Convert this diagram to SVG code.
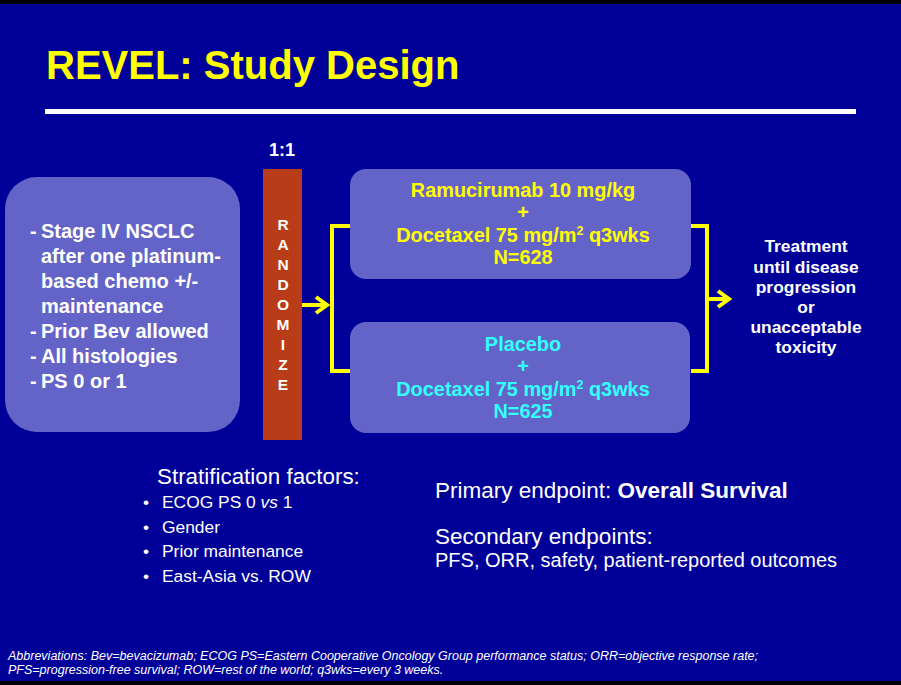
<svg xmlns="http://www.w3.org/2000/svg" width="901" height="685" viewBox="0 0 901 685">
<style>
text{font-family:"Liberation Sans",Arial,sans-serif}
.b{font-weight:bold}
.w{fill:#ffffff}
.y{fill:#ffff00}
.c{fill:#33ffff}
.box{fill:#6464c8}
.conn{stroke:#ffff00;stroke-width:4;fill:none}
.mid{text-anchor:middle}
</style>
<rect x="0" y="0" width="901" height="685" fill="#000099"/>
<rect x="0" y="0" width="901" height="4" fill="#000000"/>
<rect x="0" y="681" width="901" height="4" fill="#000000"/>

<g id="title">
<text x="46" y="79" class="b y" font-size="40">REVEL: Study Design</text>
<rect x="45" y="109" width="811" height="5" fill="#ffffff"/>
</g>

<g id="connectors">
<line x1="302" y1="305" x2="326" y2="305" class="conn"/>
<polyline points="316,297 327,305 316,313" class="conn"/>
<polyline points="350,226 332,226 332,371 350,371" class="conn"/>
<polyline points="691,226 707,226 707,371 691,371" class="conn"/>
<line x1="707" y1="299" x2="728" y2="299" class="conn"/>
<polyline points="718,291 729,299 718,307" class="conn"/>
</g>

<g id="eligibility">
<rect x="5" y="177" width="235" height="255" rx="32" class="box"/>
<g class="b w" font-size="20">
<text x="30" y="238">-</text><text x="41" y="238">Stage IV NSCLC</text>
<text x="41" y="263">after one platinum-</text>
<text x="41" y="288">based chemo +/-</text>
<text x="41" y="313">maintenance</text>
<text x="30" y="338">-</text><text x="41" y="338">Prior Bev allowed</text>
<text x="30" y="363">-</text><text x="41" y="363">All histologies</text>
<text x="30" y="388">-</text><text x="41" y="388">PS 0 or 1</text>
</g>
</g>

<g id="randomize">
<text x="282" y="156" class="b w mid" font-size="18">1:1</text>
<rect x="263" y="169" width="39" height="271" fill="#b83c17"/>
<g class="b w mid" font-size="15.5">
<text x="283" y="230">R</text>
<text x="283" y="250">A</text>
<text x="283" y="270">N</text>
<text x="283" y="290">D</text>
<text x="283" y="310">O</text>
<text x="283" y="330">M</text>
<text x="283" y="350">I</text>
<text x="283" y="370">Z</text>
<text x="283" y="390">E</text>
</g>
</g>

<g id="arm-ramucirumab">
<rect x="350" y="169" width="341" height="110" rx="16" class="box"/>
<g class="b y mid" font-size="19.9">
<text x="523" y="197">Ramucirumab 10 mg/kg</text>
<text x="523" y="219">+</text>
<text x="523" y="242">Docetaxel 75 mg/m<tspan font-size="12.5" dy="-7">2</tspan><tspan dy="7"> q3wks</tspan></text>
<text x="523" y="264">N=628</text>
</g>
</g>

<g id="arm-placebo">
<rect x="350" y="322" width="340" height="111" rx="16" class="box"/>
<g class="b c mid" font-size="19.9">
<text x="523" y="351">Placebo</text>
<text x="523" y="373">+</text>
<text x="523" y="396">Docetaxel 75 mg/m<tspan font-size="12.5" dy="-7">2</tspan><tspan dy="7"> q3wks</tspan></text>
<text x="523" y="418">N=625</text>
</g>
</g>

<g id="outcome">
<g class="b w mid" font-size="17.4">
<text x="806" y="252">Treatment</text>
<text x="806" y="273">until disease</text>
<text x="806" y="293">progression</text>
<text x="806" y="313">or</text>
<text x="806" y="333">unacceptable</text>
<text x="806" y="353">toxicity</text>
</g>
</g>

<g id="stratification" class="w">
<text x="157" y="484" font-size="22.4">Stratification factors:</text>
<g font-size="17.4">
<text x="143" y="508">•</text><text x="162" y="508">ECOG PS 0 <tspan font-style="italic">vs</tspan> 1</text>
<text x="143" y="533">•</text><text x="162" y="533">Gender</text>
<text x="143" y="557">•</text><text x="162" y="557">Prior maintenance</text>
<text x="143" y="582">•</text><text x="162" y="582">East-Asia vs. ROW</text>
</g>
</g>

<g id="endpoints" class="w">
<text x="435" y="498" font-size="22.5">Primary endpoint: <tspan class="b">Overall Survival</tspan></text>
<text x="435" y="544" font-size="22.5">Secondary endpoints:</text>
<text x="435" y="567" font-size="20">PFS, ORR, safety, patient-reported outcomes</text>
</g>

<g id="footnote" class="w" font-size="12.5" font-style="italic">
<text x="8" y="660">Abbreviations: Bev=bevacizumab; ECOG PS=Eastern Cooperative Oncology Group performance status; ORR=objective response rate;</text>
<text x="8" y="674">PFS=progression-free survival; ROW=rest of the world; q3wks=every 3 weeks.</text>
</g>
</svg>
